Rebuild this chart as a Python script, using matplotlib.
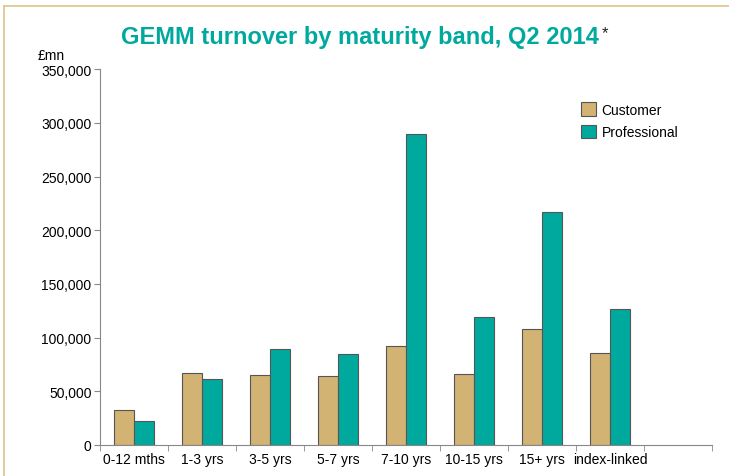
import numpy as np
import matplotlib
matplotlib.use("Agg")
import matplotlib.pyplot as plt
from matplotlib.lines import Line2D
from matplotlib.ticker import FuncFormatter

plt.rcParams['font.family'] = ['Liberation Sans', 'DejaVu Sans']

categories = ['0-12 mths', '1-3 yrs', '3-5 yrs', '5-7 yrs', '7-10 yrs',
              '10-15 yrs', '15+ yrs', 'index-linked', '']
customer = [32500, 67000, 65000, 64000, 92000, 66000, 108000, 85500]
professional = [22500, 61500, 89000, 85000, 290000, 119500, 217000, 126500]

tan = '#D2B374'
teal = '#00A99D'

fig = plt.figure(figsize=(7.29, 4.77), dpi=100)
ax = fig.add_axes([0.137, 0.065, 0.84, 0.788])

x = np.arange(len(customer))
w = 0.29
ax.bar(x - w / 2, customer, w, color=tan, edgecolor='#555555', linewidth=0.8, label='Customer')
ax.bar(x + w / 2, professional, w, color=teal, edgecolor='#555555', linewidth=0.8, label='Professional')

ax.set_xlim(-0.5, len(categories) - 0.5)
ax.set_ylim(0, 350000)
ax.set_yticks(np.arange(0, 350001, 50000))
ax.yaxis.set_major_formatter(FuncFormatter(lambda v, p: f'{int(v):,}'))
ax.set_xticks(np.arange(len(categories)))
ax.set_xticklabels(categories)
ax.set_xticks(np.arange(-0.5, len(categories), 1), minor=True)
ax.tick_params(axis='x', which='major', length=0, pad=5, labelsize=10)
ax.tick_params(axis='x', which='minor', length=4, color='#888888')
ax.tick_params(axis='y', length=4, color='#888888', labelsize=10, pad=2)

for s in ['top', 'right']:
    ax.spines[s].set_visible(False)
for s in ['left', 'bottom']:
    ax.spines[s].set_color('#888888')
    ax.spines[s].set_linewidth(0.8)

ax.legend(loc='upper left', bbox_to_anchor=(0.765, 0.945), frameon=False, fontsize=10,
          handlelength=1.1, handleheight=1.1, handletextpad=0.4, labelspacing=0.6)

fig.text(0.494, 0.922, 'GEMM turnover by maturity band, Q2 2014', color=teal,
         fontsize=17, fontweight='bold', ha='center', va='center')
fig.text(0.825, 0.93, '*', color='#222222', fontsize=12, ha='left', va='center')
fig.text(0.089, 0.883, '£mn', fontsize=10, ha='right', va='center')

# tan frame on left and top
fig.add_artist(Line2D([0.006, 0.006], [0, 0.985], color='#E0C28A', lw=1.2, transform=fig.transFigure))
fig.add_artist(Line2D([0.006, 1], [0.985, 0.985], color='#E0C28A', lw=1.2, transform=fig.transFigure))

fig.savefig('out.png', dpi=100)
